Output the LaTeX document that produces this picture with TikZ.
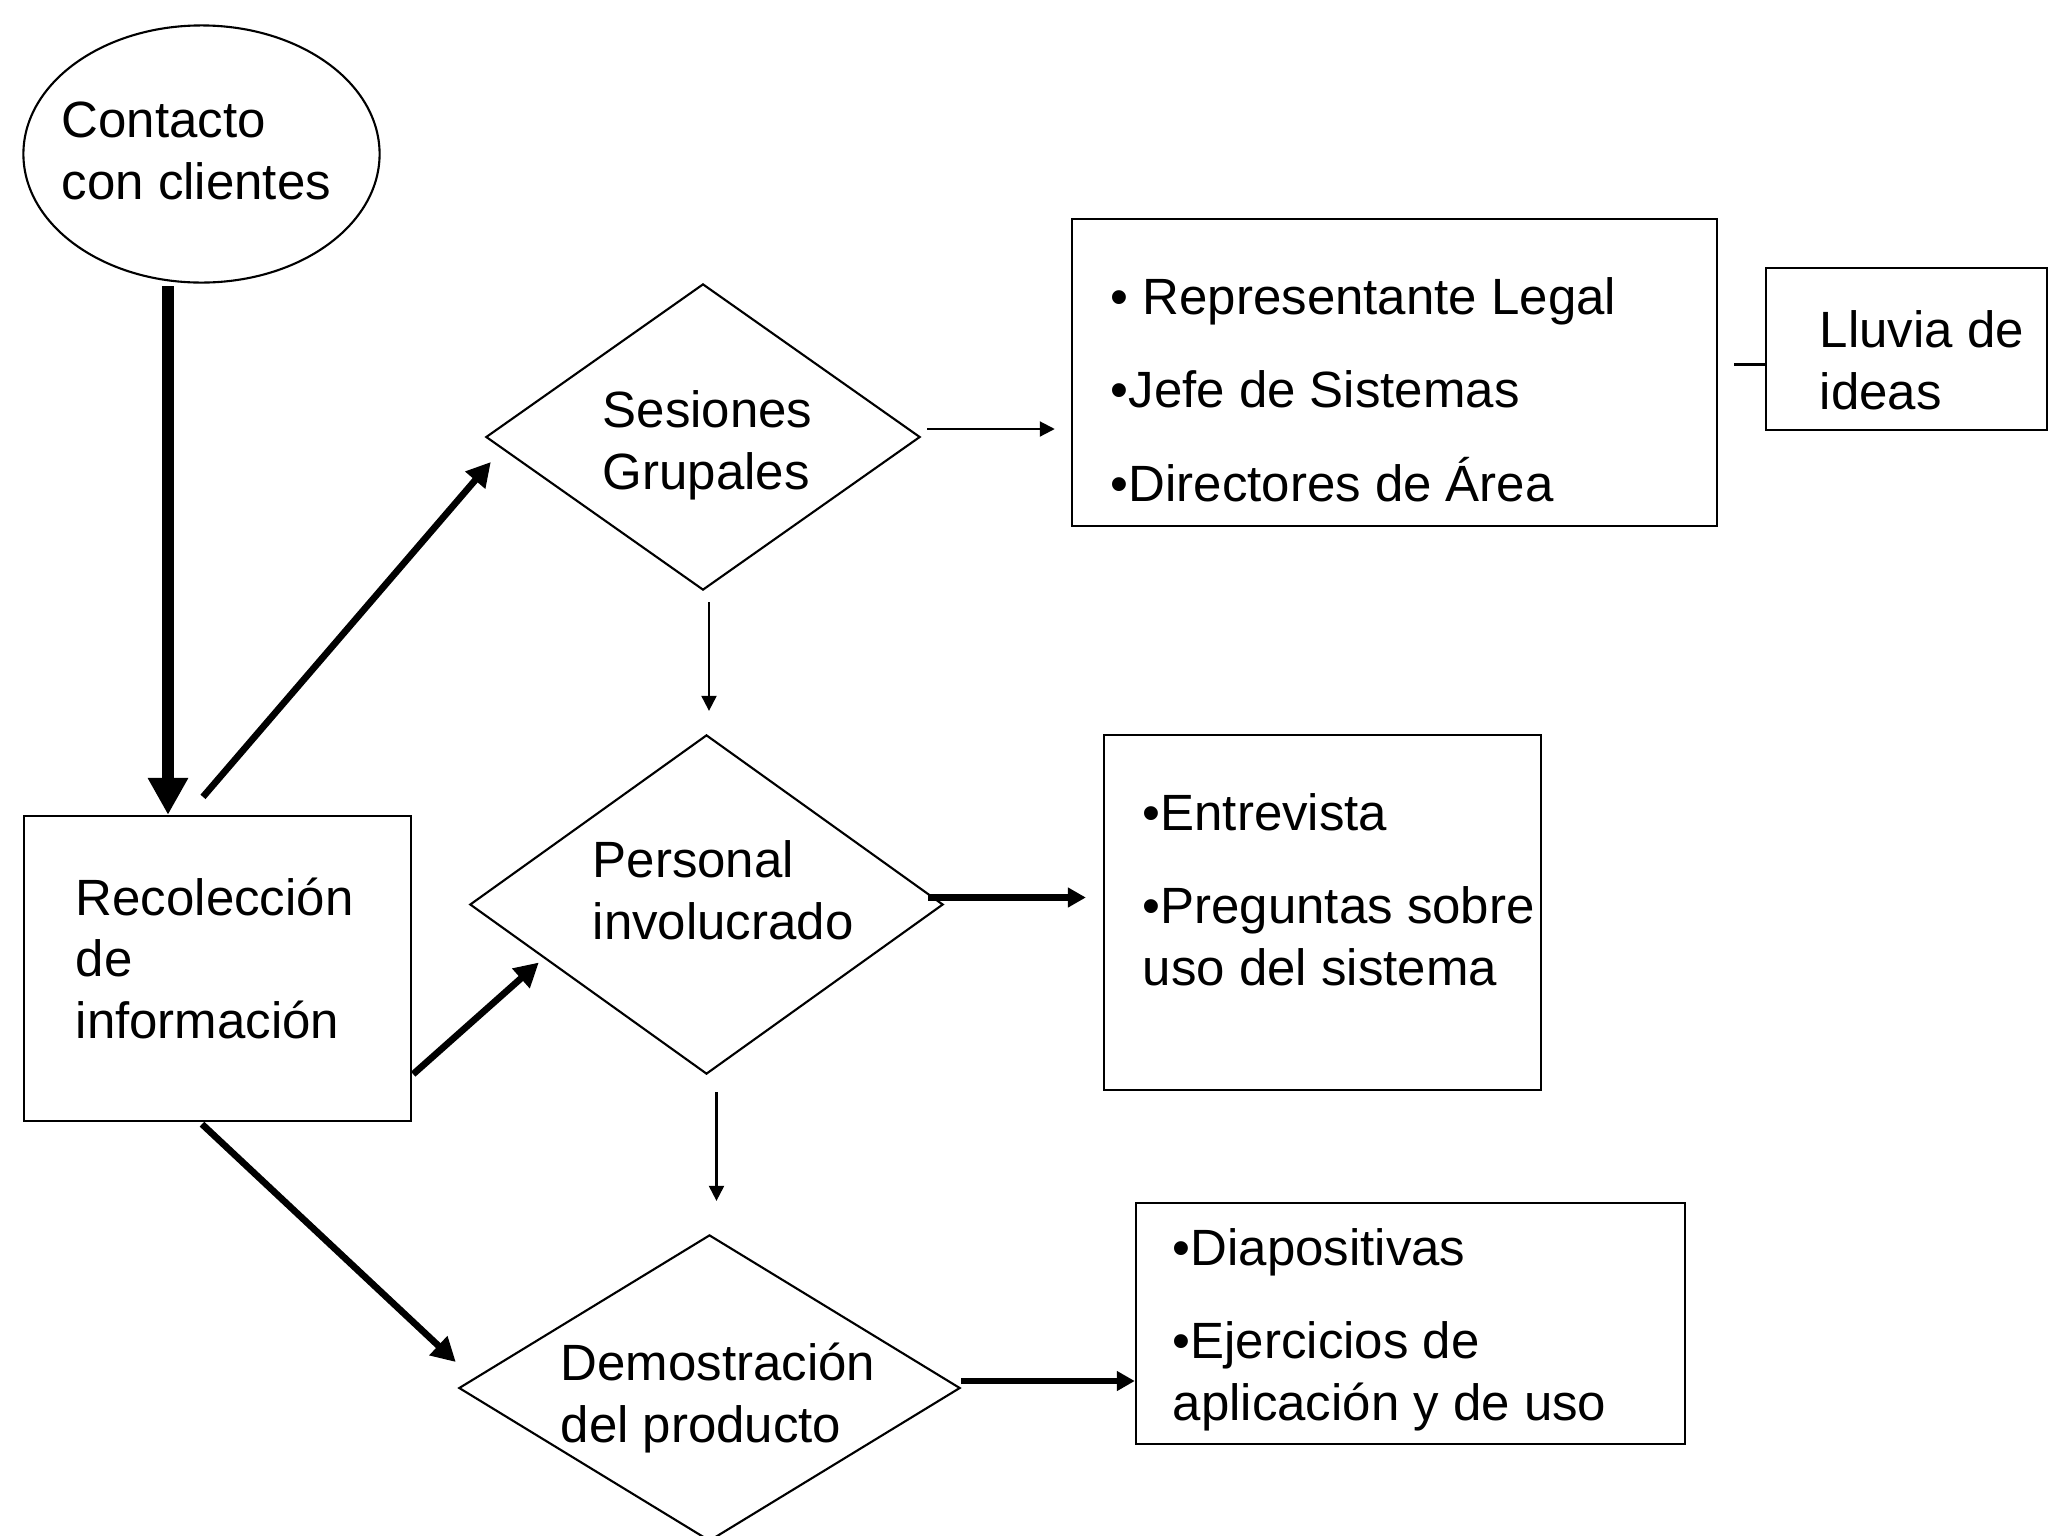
\documentclass[tikz,border=0pt]{standalone}
\usepackage{fontspec}
\setmainfont{Liberation Sans}
\usetikzlibrary{shapes.geometric,arrows.meta,calc}

\begin{document}
\begin{tikzpicture}[x=0.01cm,y=-0.01cm,
  caja/.style={draw,line width=0.6pt,inner sep=0},
  rombo/.style={draw,diamond,line width=0.6pt,inner sep=0},
  texto/.style={anchor=base west,align=left,inner sep=0,font=\fontsize{14.5pt}{17.4pt}\selectfont},
  fina/.style={line width=0.6pt,-{Triangle[width=0.15cm,length=0.15cm]}},
  media/.style={line width=1.9pt,-{Triangle[width=0.19cm,length=0.18cm]}},
  gruesa/.style={line width=1.9pt,-{Triangle[width=0.25cm,length=0.24cm]}},
  maciza/.style={line width=3.4pt,-{Triangle[width=0.38cm,length=0.37cm]}}]
\useasboundingbox (0,0) rectangle (2048,1536);

% (texto: base = linea de abajo)
\node[ellipse,draw,line width=0.6pt,minimum width=3.56cm,minimum height=2.57cm,inner sep=0] (contacto) at (201.5,154) {};
\node[texto] (contactoT) at (61,199) {Contacto\\con clientes};

\node[caja,minimum width=3.87cm,minimum height=3.05cm] (recol) at (217.5,968.5) {};
\node[texto] (recolT) at (75,1038) {Recolección\\de\\información};

\node[rombo,minimum width=4.34cm,minimum height=3.06cm] (sesiones) at (703,437) {};
\node[texto] (sesionesT) at (602,489) {Sesiones\\Grupales};
\node[rombo,minimum width=4.73cm,minimum height=3.39cm] (personal) at (706.5,904.5) {};
\node[texto] (personalT) at (592,939) {Personal\\involucrado};
\node[rombo,minimum width=5.01cm,minimum height=3.06cm] (demo) at (709.5,1388) {};
\node[texto] (demoT) at (560,1442) {Demostración\\del producto};

\node[caja,minimum width=6.45cm,minimum height=3.07cm] (lista1) at (1394.5,372.5) {};
\node[texto] (lista1T) at (1110,501) {• Representante Legal\\[9.1pt]•Jefe de Sistemas\\[9.1pt]•Directores de Área};
\node[caja,minimum width=2.81cm,minimum height=1.62cm] (lluvia) at (1906.5,349) {};
\node[texto] (lluviaT) at (1819,409) {Lluvia de\\ideas};
\node[caja,minimum width=4.37cm,minimum height=3.55cm] (lista2) at (1322.5,912.5) {};
\node[texto] (lista2T) at (1142,985) {•Entrevista\\[9.1pt]•Preguntas sobre\\uso del sistema};
\node[caja,minimum width=5.49cm,minimum height=2.41cm] (lista3) at (1410.5,1323.5) {};
\node[texto] (lista3T) at (1172,1420) {•Diapositivas\\[9.1pt]•Ejercicios de\\aplicación y de uso};

% flujo principal
\draw[maciza] ($(contacto.south)+(-33.5,2.5)$) coordinate (a0) -- (a0 |- recol.north);
\draw[gruesa] ($(recol.north)+(-14.5,-18)$) -- ($(sesiones.west)+(6,25)$);
\draw[gruesa] ($(recol.south east)+(1,-48)$) -- ($(personal.west)+(70,58)$);
\draw[gruesa] ($(recol.south)+(-15.5,2)$) -- ($(demo.west)+(-2,-26)$);

% hacia las listas
\draw[fina] ($(sesiones.east)+(6,-8)$) coordinate (b0) -- ($(b0 -| lista1.west)+(-16,0)$);
\draw[fina] ($(sesiones.south)+(6,11)$) coordinate (b1) -- ($(b1 |- personal.north)+(0,-23)$);
\draw[fina] ($(personal.south)+(10,17)$) coordinate (b2) -- ($(b2 |- demo.north)+(0,-33)$);
\draw[media] ($(personal.east)+(-16,-7)$) coordinate (b3) -- ($(b3 -| lista2.west)+(-17,0)$);
\draw[media] ($(demo.east)+(0,-7)$) coordinate (b4) -- (b4 -| lista3.west);
\draw[line width=0.6pt] ($(lista1.east)+(16,-8)$) coordinate (b5) -- (b5 -| lluvia.west);

\end{tikzpicture}
\end{document}
